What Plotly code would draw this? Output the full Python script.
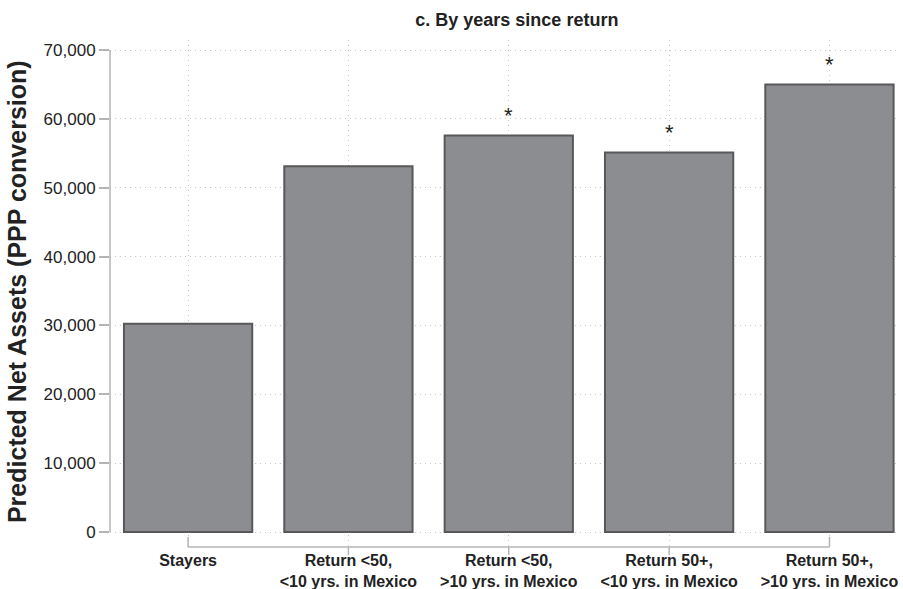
import plotly.graph_objects as go

categories = ["Stayers",
              "Return &lt;50,<br>&lt;10 yrs. in Mexico",
              "Return &lt;50,<br>&gt;10 yrs. in Mexico",
              "Return 50+,<br>&lt;10 yrs. in Mexico",
              "Return 50+,<br>&gt;10 yrs. in Mexico"]
values = [30250, 53100, 57600, 55100, 65000]
significance = ["", "", "*", "*", "*"]
y_ticks = [0, 10000, 20000, 30000, 40000, 50000, 60000, 70000]

FONT = "Liberation Sans, Arial, Helvetica, sans-serif"
GRID = "#c8c8c8"
AXIS = "#b4b4b4"

fig = go.Figure()
fig.add_trace(go.Bar(
    x=categories, y=values, width=0.8,
    marker=dict(color="#8c8d91", line=dict(color="#58585a", width=2)),
    hoverinfo="skip",
))

for c, v, s in zip(categories, values, significance):
    if s:
        fig.add_annotation(x=c, y=v, text=s, showarrow=False, yanchor="middle",
                           yshift=20, font=dict(family=FONT, size=22, color="#222"))

# y-axis line (0 to 70,000 only)
fig.add_shape(type="line", xref="paper", yref="y", x0=0, x1=0,
              y0=y_ticks[0], y1=y_ticks[-1], line=dict(color=AXIS, width=1.5))
# x-axis bracket line from first to last category
fig.add_shape(type="line", xref="x", yref="paper", x0=categories[0], x1=categories[-1],
              y0=-0.002, y1=-0.002, line=dict(color=AXIS, width=1.5))
for c in (categories[0], categories[-1]):
    fig.add_shape(type="line", xref="x", yref="paper", x0=c, x1=c,
                  y0=-0.002, y1=0.018, line=dict(color=AXIS, width=1.5))
for c in categories[1:-1]:
    fig.add_shape(type="line", xref="x", yref="paper", x0=c, x1=c,
                  y0=-0.002, y1=-0.018, line=dict(color=AXIS, width=1.5))

fig.add_annotation(xref="paper", yref="paper", x=-0.117, y=0.503,
                   text="<b>Predicted Net Assets (PPP conversion)</b>", textangle=-90,
                   showarrow=False, xanchor="center", yanchor="middle",
                   font=dict(family=FONT, size=25, color="#222"))

fig.update_layout(
    width=903, height=589,
    margin=dict(l=110, r=3, t=40, b=43),
    paper_bgcolor="white", plot_bgcolor="white",
    showlegend=False,
    font=dict(family=FONT, color="#222"),
    title=dict(text="<b>c. By years since return</b>", x=0.515, xref="paper",
               y=1 - 20 / 589, yanchor="middle", xanchor="center",
               font=dict(family=FONT, size=18, color="#222")),
    xaxis=dict(type="category", range=[-0.487, 4.44], showline=False, ticks="",
               showgrid=True, gridcolor=GRID, griddash="1px,4px", gridwidth=1,
               tickfont=dict(family=FONT, size=16, color="#222"),
               ticklabelstandoff=3, zeroline=False, automargin=False),
    yaxis=dict(range=[-2033, 71452], tickvals=y_ticks, tickformat=",d",
               showline=False, ticks="outside", ticklen=10, tickwidth=1.5, tickcolor=AXIS,
               showgrid=True, gridcolor=GRID, griddash="1px,4px", gridwidth=1,
               zeroline=False, automargin=False,
               tickfont=dict(family=FONT, size=17, color="#222")),
)
fig.for_each_xaxis(lambda a: a.update(tickprefix="<b>", ticksuffix="</b>"))

fig.write_html("out.html")
